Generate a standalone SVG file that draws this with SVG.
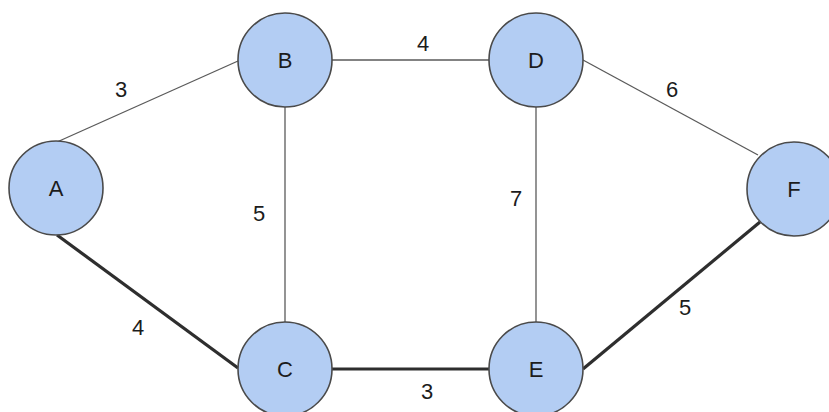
<svg xmlns="http://www.w3.org/2000/svg" width="829" height="412" viewBox="0 0 829 412">
<style>
.edge{stroke:#5a5a5a;stroke-width:1.3;fill:none}
.thick{stroke:#2e2e2e;stroke-width:3.2;fill:none}
.node circle{fill:#b3cdf3;stroke:#4a4a4a;stroke-width:1.6}
text{font-family:"Liberation Sans",Arial,sans-serif;font-size:22px;fill:#1c1c1c;text-anchor:middle}
</style>
<rect width="829" height="412" fill="#ffffff"/>
<g id="connectors">
<line class="edge" x1="57" y1="142" x2="238" y2="61"/>
<line class="thick" x1="57" y1="235" x2="238" y2="368"/>
<line class="edge" x1="332" y1="60" x2="489" y2="60"/>
<line class="edge" x1="285" y1="107" x2="285" y2="322"/>
<line class="edge" x1="536" y1="107" x2="536" y2="322"/>
<line class="thick" x1="332" y1="369" x2="489" y2="369"/>
<line class="edge" x1="583" y1="60" x2="758" y2="155"/>
<line class="thick" x1="583" y1="369" x2="760" y2="222"/>
<text x="121" y="97">3</text>
<text x="138" y="335">4</text>
<text x="259" y="221">5</text>
<text x="423" y="51">4</text>
<text x="516" y="206">7</text>
<text x="672" y="97">6</text>
<text x="685" y="315">5</text>
<text x="427" y="399">3</text>
</g>
<g id="A" class="node"><circle cx="56" cy="188" r="47"/><text x="56" y="196">A</text></g>
<g id="B" class="node"><circle cx="285" cy="60" r="47"/><text x="285" y="68">B</text></g>
<g id="C" class="node"><circle cx="285" cy="369" r="47"/><text x="285" y="377">C</text></g>
<g id="D" class="node"><circle cx="536" cy="60" r="47"/><text x="536" y="68">D</text></g>
<g id="E" class="node"><circle cx="536" cy="369" r="47"/><text x="536" y="377">E</text></g>
<g id="F" class="node"><circle cx="794" cy="189" r="47"/><text x="794" y="197">F</text></g>
</svg>
